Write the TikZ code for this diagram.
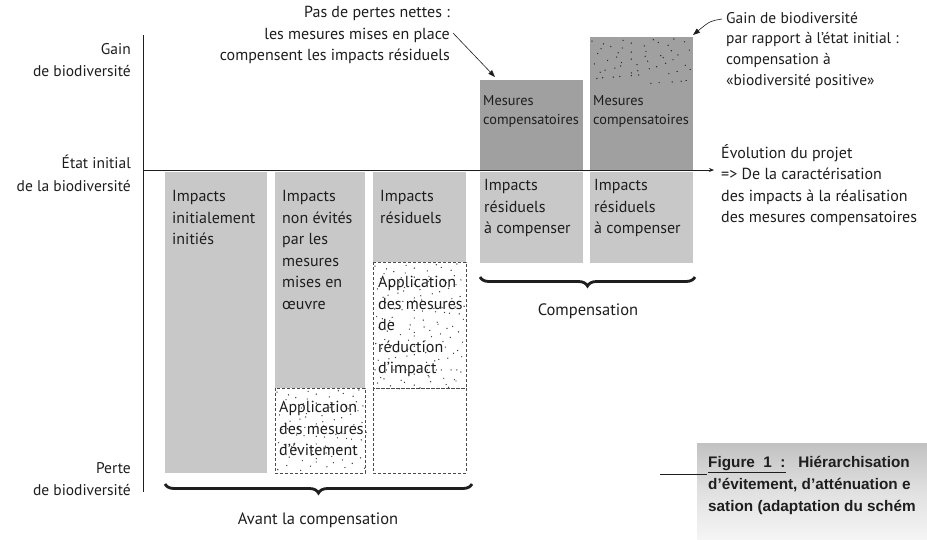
\documentclass[tikz,border=0pt]{standalone}
\usepackage{fontspec}
\setmainfont{PT Sans}
\newfontfamily\capfont{Liberation Sans}
\usetikzlibrary{decorations.pathreplacing,arrows.meta}
\definecolor{barlight}{HTML}{C8C8C8}
\definecolor{bardark}{HTML}{A0A0A0}
\definecolor{inkc}{HTML}{1E1E1E}
\newcommand{\speckfield}[6]{% x0 y0 nx ny step color
  \foreach \ix in {0,...,#3} {\foreach \iy in {0,...,#4} {
    \pgfmathsetmacro{\jx}{mod(\ix*\ix*3+\iy*7+\ix*\iy,11)/11*#5}
    \pgfmathsetmacro{\jy}{mod(\iy*\iy*5+\ix*4+2*\ix*\iy+3,13)/13*#5}
    \fill[#6] ({#1+\ix*#5+\jx},{#2+\iy*#5+\jy}) circle (0.7pt);}}}
\begin{document}
\begin{tikzpicture}[x=1pt,y=-1pt,
  txt/.style={inner sep=0pt,align=left,anchor=north west,text=inkc,font=\fontsize{16}{21.6}\selectfont},
  lbl/.style={inner sep=0pt,align=right,anchor=north east,text=inkc,font=\fontsize{15.5}{22.5}\selectfont},
  small/.style={inner sep=0pt,align=left,anchor=north west,text=inkc,font=\fontsize{14.3}{19}\selectfont},
  lightbar/.style={fill=barlight},
  darkbar/.style={fill=bardark},
  dashbox/.style={draw=inkc!80,line width=0.9pt,dash pattern=on 3pt off 2pt},
  bracestyle/.style={decorate,decoration={brace,mirror,amplitude=9pt},line width=2.8pt,draw=inkc},
  annarrow/.style={draw=inkc,line width=0.6pt,-{Triangle[length=7pt,width=5pt]}}
]
\useasboundingbox (0,0) rectangle (927,539);
\fill[white] (0,0) rectangle (927,539);

% caption box
\shade[top color=gray!48,bottom color=gray!8,middle color=gray!24] (697,443) rectangle (927,539);
\draw[inkc,line width=0.8pt] (660,474) -- (707,474);
\node[inner sep=0pt,anchor=north west,align=left,text=inkc,font=\capfont\bfseries\fontsize{15.3}{22}\selectfont] (cap) at (708,456)
 {\underline{Figure\ \ 1\ \ :}\ \ \ Hiérarchisation\\d’évitement, d’atténuation e\\sation (adaptation du schém};

% bars before compensation
\fill[lightbar] (165,172) rectangle (267,473);
\fill[lightbar] (275,172) rectangle (365,388);
\fill[lightbar] (373,172) rectangle (466,262);
% compensation bars
\fill[darkbar] (480,80) rectangle (583,170);
\fill[darkbar] (590,37) rectangle (693,170);
\fill[lightbar] (480,172) rectangle (583,263);
\fill[lightbar] (590,172) rectangle (693,263);

% speckles
\speckfield{592}{39}{10}{4}{9}{gray!30!black}
\speckfield{277}{390}{9}{8}{9}{gray!45!black}
\speckfield{375}{264}{9}{13}{9}{gray!45!black}

% dashed boxes
\draw[dashbox] (275,388) rectangle (365,473);
\draw[dashbox] (373,262) rectangle (466,388);
\draw[dashbox] (373,388) rectangle (466,473);

% axes
\draw[inkc,line width=1pt] (143,35) -- (143,492);
\coordinate (hstart) at (143,170);
\coordinate (hend) at (714,170);
\draw[inkc,line width=1pt,-{Stealth[length=5pt,width=4pt]}] (hstart) -- (hend);

% axis labels
\node[lbl] (gain) at (131,43) {Gain\\de biodiversité};
\node[lbl] (etat) at (131,155) {État initial\\de la biodiversité};
\node[lbl] (perte) at (131,462) {Perte\\de biodiversité};

% bar texts
\node[txt] (b1) at (172,190) {Impacts\\initialement\\initiés};
\node[txt] (b2) at (282,190) {Impacts\\non évités\\par les\\mesures\\mises en\\œuvre};
\node[txt] (b3) at (380,190) {Impacts\\résiduels};
\node[txt] (b3r) at (378,276) {Application\\des mesures\\de\\réduction\\d’impact};
\node[txt] (b2e) at (279,401) {Application\\des mesures\\d’évitement};
\node[txt] (b4) at (484,179) {Impacts\\résiduels\\à compenser};
\node[txt] (b5) at (594,179) {Impacts\\résiduels\\à compenser};
\node[small] (m4) at (483,95) {Mesures\\compensatoires};
\node[small] (m5) at (593,95) {Mesures\\compensatoires};

% braces
\draw[bracestyle] (165,484) -- (472,484);
\node[inner sep=0pt,text=inkc,font=\fontsize{16.5}{18}\selectfont] (avant) at (318,520) {Avant la compensation};
\draw[bracestyle] (480,277) -- (695,277);
\node[inner sep=0pt,text=inkc,font=\fontsize{16.5}{18}\selectfont] (comp) at (588,311) {Compensation};

% annotations
\node[inner sep=0pt,align=right,anchor=north east,text=inkc,font=\fontsize{16}{21.5}\selectfont] (ppn) at (450,6)
 {Pas de pertes nettes :\\les mesures mises en place\\compensent les impacts résiduels};
\coordinate (ppnstart) at (453,33);
\coordinate (ppnend) at (495,77);
\draw[annarrow] (ppnstart) -- (ppnend);

\node[inner sep=0pt,align=left,anchor=north west,text=inkc,font=\fontsize{15.5}{20.6}\selectfont] (gbp) at (726,12)
 {Gain de biodiversité\\par rapport à l’état initial :\\compensation à\\«biodiversité positive»};
\coordinate (gstart) at (722,19);
\coordinate (gend) at (693,35);
\draw[annarrow] (gstart) .. controls (710,21) .. (gend);

\node[txt] (evo) at (721,144) {Évolution du projet\\=> De la caractérisation\\des impacts à la réalisation\\des mesures compensatoires};
\end{tikzpicture}
\end{document}
